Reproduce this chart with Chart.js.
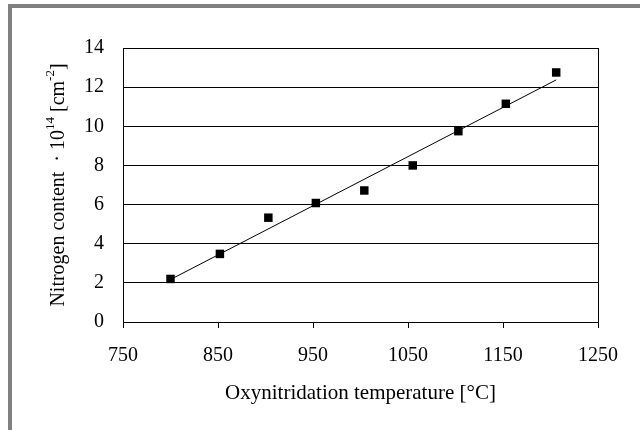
<!DOCTYPE html>
<html lang="en">
<head>
    <meta charset="UTF-8">
    <title>Nitrogen content vs. oxynitridation temperature</title>
    <script src="https://cdn.jsdelivr.net/npm/chart.js"></script>
    <style>
        body {
            margin: 0;
            background: #fff;
        }
        .wrap {
            position: relative;
            width: 640px;
            height: 430px;
            overflow: hidden;
        }
        .frame {
            position: absolute;
            left: 8px;
            top: 4px;
            right: 0;
            bottom: 0;
            border-top: 4px solid #808080;
            border-left: 4px solid #808080;
        }
        canvas {
            position: absolute;
            left: 0;
            top: 0;
        }
    </style>
</head>
<body>
    <div class="wrap">
        <div class="frame"></div>
        <canvas id="nitrogenChart" width="640" height="430"></canvas>
    </div>

    <script>
        // Measured points (temperature in °C, nitrogen content in 1e14 cm^-2)
        const temperatures = [800, 852, 903, 953, 1004, 1055, 1103, 1153, 1206];
        const nitrogenContent = [2.2, 3.48, 5.33, 6.08, 6.72, 8.0, 9.75, 11.15, 12.75];

        // Fit line, endpoints
        const fitTemperatures = [800, 1206];
        const fitContent = [2.17, 12.37];

        const xTicks = [750, 850, 950, 1050, 1150, 1250];
        const yTicks = [0, 2, 4, 6, 8, 10, 12, 14];

        const xTitle = "Oxynitridation temperature [°C]";
        // y title has superscripts, so it is drawn in pieces
        const yTitleParts = [
            { text: "Nitrogen content  \u00b7 10", sup: false },
            { text: "14", sup: true },
            { text: " [cm", sup: false },
            { text: "-2", sup: true },
            { text: "]", sup: false }
        ];

        const serif = '"Liberation Serif", "Times New Roman", serif';

        // Box around the plot area + rotated y axis title
        const plotFrame = {
            id: "plotFrame",
            beforeDatasetsDraw(chart) {
                const { ctx, chartArea } = chart;
                const l = Math.round(chartArea.left) + 0.5;
                const t = Math.round(chartArea.top) + 0.5;
                const r = Math.round(chartArea.right) + 0.5;
                const b = Math.round(chartArea.bottom) + 0.5;
                ctx.save();
                ctx.strokeStyle = "#000";
                ctx.lineWidth = 1;
                ctx.strokeRect(l, t, r - l, b - t);
                ctx.restore();
            },
            afterDraw(chart) {
                const { ctx, chartArea } = chart;
                const mainFont = "20px " + serif;
                const supFont = "13px " + serif;
                ctx.save();
                let total = 0;
                yTitleParts.forEach(p => {
                    ctx.font = p.sup ? supFont : mainFont;
                    total += ctx.measureText(p.text).width;
                });
                const cy = (chartArea.top + chartArea.bottom) / 2;
                ctx.translate(64, cy + total / 2);
                ctx.rotate(-Math.PI / 2);
                ctx.fillStyle = "#000";
                ctx.textBaseline = "alphabetic";
                ctx.textAlign = "left";
                let pos = 0;
                yTitleParts.forEach(p => {
                    ctx.font = p.sup ? supFont : mainFont;
                    ctx.fillText(p.text, pos, p.sup ? -10 : 0);
                    pos += ctx.measureText(p.text).width;
                });
                ctx.restore();
            }
        };

        const config = {
            type: "scatter",
            data: {
                datasets: [
                    {
                        label: "Nitrogen content",
                        data: temperatures.map((t, i) => ({ x: t, y: nitrogenContent[i] })),
                        pointStyle: "rect",
                        pointRadius: 6,
                        pointHoverRadius: 6,
                        backgroundColor: "#000",
                        borderColor: "#000",
                        borderWidth: 0
                    },
                    {
                        type: "line",
                        label: "Fit",
                        data: fitTemperatures.map((t, i) => ({ x: t, y: fitContent[i] })),
                        borderColor: "#000",
                        borderWidth: 1,
                        pointRadius: 0,
                        fill: false,
                        tension: 0
                    }
                ]
            },
            options: {
                responsive: false,
                animation: false,
                layout: {
                    padding: { left: 0, top: 48, right: 42, bottom: 0 }
                },
                plugins: {
                    legend: { display: false },
                    tooltip: { enabled: false }
                },
                scales: {
                    x: {
                        type: "linear",
                        position: "bottom",
                        min: 750,
                        max: 1250,
                        afterBuildTicks: scale => {
                            scale.ticks = xTicks.map(v => ({ value: v }));
                        },
                        afterFit: scale => {
                            scale.height = 108;
                        },
                        grid: {
                            drawOnChartArea: false,
                            drawTicks: true,
                            tickLength: 6,
                            color: "#000"
                        },
                        border: { display: true, color: "#000", width: 1 },
                        ticks: {
                            color: "#000",
                            font: { family: serif, size: 20 },
                            padding: 16,
                            maxRotation: 0,
                            callback: v => String(v)
                        },
                        title: {
                            display: true,
                            text: xTitle,
                            color: "#000",
                            font: { family: serif, size: 21 },
                            padding: { top: 0, bottom: 24 }
                        }
                    },
                    y: {
                        type: "linear",
                        position: "left",
                        min: 0,
                        max: 14,
                        afterBuildTicks: scale => {
                            scale.ticks = yTicks.map(v => ({ value: v }));
                        },
                        afterFit: scale => {
                            scale.width = 123;
                        },
                        grid: {
                            color: "#000",
                            drawTicks: false
                        },
                        border: { display: true, color: "#000", width: 1 },
                        ticks: {
                            color: "#000",
                            font: { family: serif, size: 20 },
                            padding: 19,
                            callback: v => String(v)
                        }
                    }
                }
            },
            plugins: [plotFrame]
        };

        new Chart(document.getElementById("nitrogenChart"), config);
    </script>
</body>
</html>
